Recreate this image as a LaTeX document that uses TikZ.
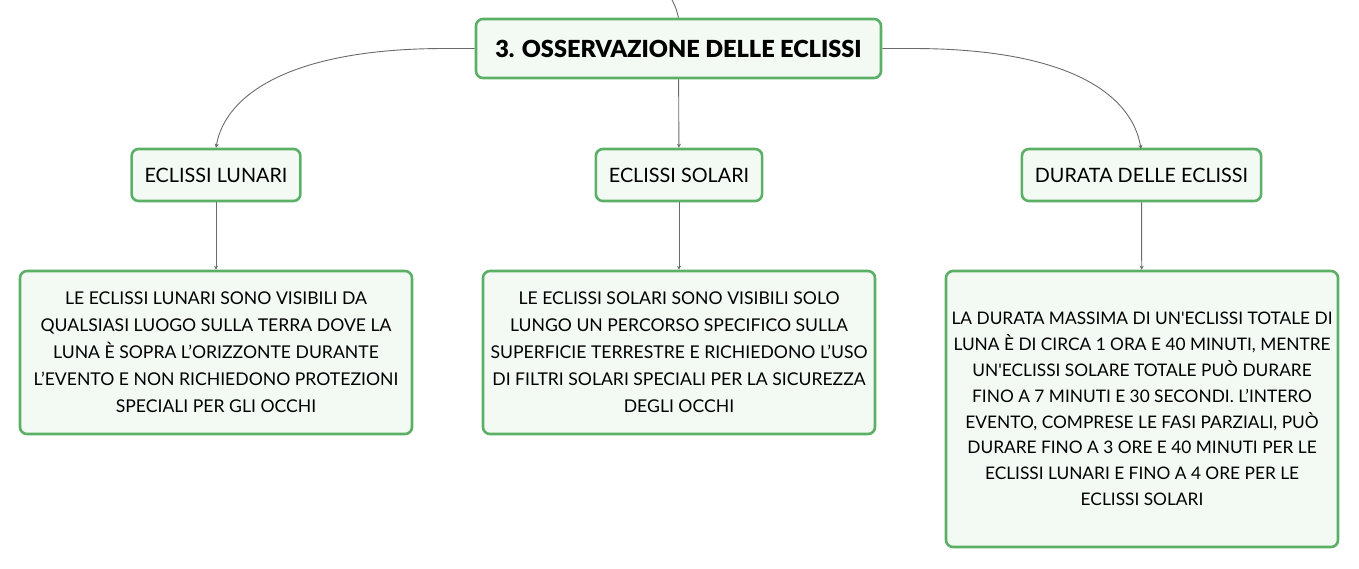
\documentclass[tikz,border=0pt]{standalone}
\usepackage{fontspec}
\setmainfont{Lato}
\newfontfamily\heavy{Lato Black}
\usepackage{tikz}
\usetikzlibrary{positioning,arrows.meta}
\definecolor{edge}{HTML}{5BB066}
\definecolor{leaf}{HTML}{F3FAF4}
\definecolor{wire}{HTML}{6B6B6B}
\tikzset{
  topic/.style={draw=edge,fill=leaf,line width=2.6pt,rounded corners=7pt,minimum width=405pt,minimum height=59pt,font=\fontsize{23.5}{26}\selectfont\heavy},
  sub/.style={draw=edge,fill=leaf,line width=2.6pt,rounded corners=7pt,minimum height=52pt,inner xsep=13pt,font=\fontsize{19.8}{22}\selectfont},
  leafbox/.style={draw=edge,fill=leaf,line width=2.6pt,rounded corners=7pt,minimum width=392pt,align=center,font=\fontsize{17.6}{27}\selectfont},
  arr/.style={-{Stealth[length=4pt,width=4pt]},wire,line width=0.9pt},
}
\begin{document}
\begin{tikzpicture}[x=1pt,y=-1pt]
\useasboundingbox (0,0) rectangle (1359,568);
\node[topic] (main) at (678.5,48.5) {3. OSSERVAZIONE DELLE ECLISSI};
\node[sub] (lun) at (216,175) {ECLISSI LUNARI};
\node[sub] (sol) at (679,175) {ECLISSI SOLARI};
\node[sub] (dur) at (1141.5,175) {DURATA DELLE ECLISSI};
\node[leafbox,minimum height=163pt] (tlun) at (216,352.5) {LE ECLISSI LUNARI SONO VISIBILI DA\\QUALSIASI LUOGO SULLA TERRA DOVE LA\\LUNA È SOPRA L'ORIZZONTE DURANTE\\L'EVENTO E NON RICHIEDONO PROTEZIONI\\SPECIALI PER GLI OCCHI};
\node[leafbox,minimum height=163pt] (tsol) at (679,352.5) {LE ECLISSI SOLARI SONO VISIBILI SOLO\\LUNGO UN PERCORSO SPECIFICO SULLA\\SUPERFICIE TERRESTRE E RICHIEDONO L'USO\\DI FILTRI SOLARI SPECIALI PER LA SICUREZZA\\DEGLI OCCHI};
\node[leafbox,minimum height=276pt,font=\fontsize{17.3}{25.8}\selectfont] (tdur) at (1142,409) {LA DURATA MASSIMA DI UN\textquotesingle ECLISSI TOTALE DI\\LUNA È DI CIRCA 1 ORA E 40 MINUTI, MENTRE\\UN\textquotesingle ECLISSI SOLARE TOTALE PUÒ DURARE\\FINO A 7 MINUTI E 30 SECONDI. L'INTERO\\EVENTO, COMPRESE LE FASI PARZIALI, PUÒ\\DURARE FINO A 3 ORE E 40 MINUTI PER LE\\ECLISSI LUNARI E FINO A 4 ORE PER LE\\ECLISSI SOLARI};
\coordinate (up) at (672,0);
% links
\draw[wire,line width=0.9pt] (up) .. controls (676,8) .. (main.north);
\draw[arr] (main.west) -- (445,48.5) .. controls (290,48.5) and (225,95) .. (lun.north);
\draw[arr] (main) -- (sol);
\draw[arr] (main.east) -- (912,48.5) .. controls (1070,48.5) and (1132,95) .. (1141,149);
\draw[arr] (lun) -- (tlun);
\draw[arr] (sol) -- (tsol);
\draw[arr] (dur) -- (tdur);
\end{tikzpicture}
\end{document}
